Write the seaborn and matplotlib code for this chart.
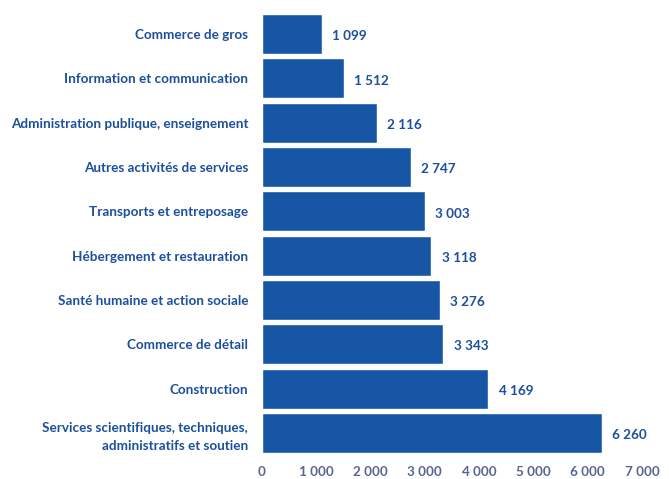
import pandas as pd
import matplotlib.pyplot as plt
import seaborn as sns

secteurs = [
    "Commerce de gros",
    "Information et communication",
    "Administration publique, enseignement",
    "Autres activités de services",
    "Transports et entreposage",
    "Hébergement et restauration",
    "Santé humaine et action sociale",
    "Commerce de détail",
    "Construction",
    "Services scientifiques, techniques,\nadministratifs et soutien",
]
effectifs = [1099, 1512, 2116, 2747, 3003, 3118, 3276, 3343, 4169, 6260]
x_ticks = [0, 1000, 2000, 3000, 4000, 5000, 6000, 7000]

BLUE = "#1656a5"
LABEL = "#1c4f9c"
TICK = "#5b6690"


def fmt(v):
    return f"{v:,}".replace(",", " ")


df = pd.DataFrame({"secteur": secteurs, "effectif": effectifs})

sns.set_style("white")
plt.rcParams["font.family"] = ["Lato", "DejaVu Sans"]

fig = plt.figure(figsize=(6.69, 4.79), dpi=100)
ax = fig.add_axes([0.3916, 0.05, 0.568, 0.925])
sns.barplot(data=df, x="effectif", y="secteur", color=BLUE, width=0.9,
            saturation=1, ax=ax)

for i, v in enumerate(effectifs):
    ax.text(v + 190, i + 0.05, fmt(v), va="center", ha="left",
            fontsize=9.7, fontweight="bold", color=LABEL)

ax.set_xlim(0, 7000)
ax.set_xticks(x_ticks)
ax.set_xticklabels([fmt(t) for t in x_ticks], fontsize=9.7, fontweight="bold", color=TICK)
ax.set_yticks(range(len(secteurs)))
ax.set_yticklabels(secteurs, fontsize=9.7, fontweight="bold", color=LABEL,
                   linespacing=1.6)
ax.tick_params(axis="x", length=0, pad=8)
ax.tick_params(axis="y", length=0, pad=10)
ax.set_xlabel("")
ax.set_ylabel("")
sns.despine(ax=ax, left=True, bottom=True)

fig.savefig("out.png", dpi=100)
